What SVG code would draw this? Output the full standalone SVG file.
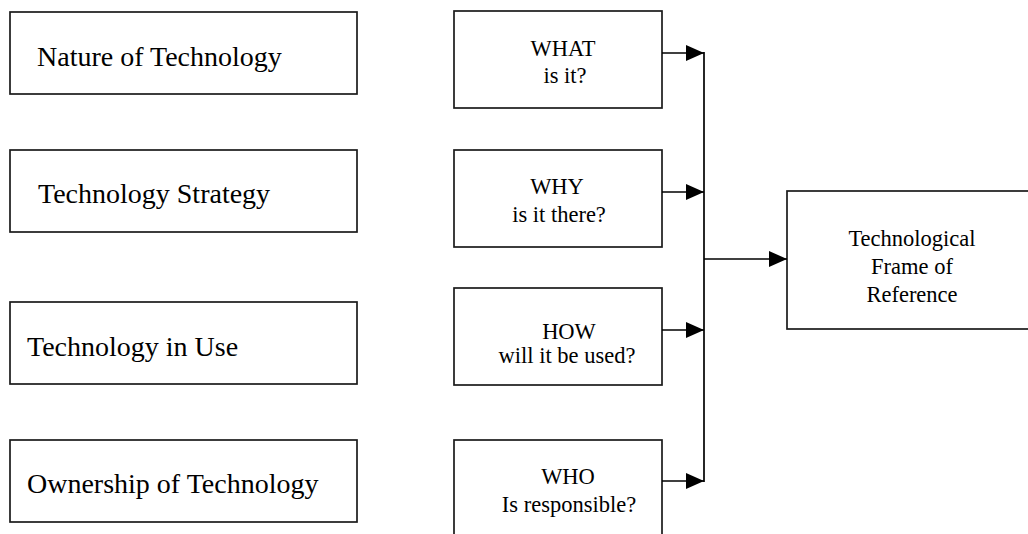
<svg xmlns="http://www.w3.org/2000/svg" width="1028" height="534" viewBox="0 0 1028 534">
<style>
.box{fill:#fff;stroke:#1a1a1a;stroke-width:1.7}
.lbl{font-family:"Liberation Serif","Times New Roman",serif;fill:#000}
.big{font-size:28px}
.mid{font-size:22.5px;text-anchor:middle}
.ln{stroke:#000;stroke-width:1.7;fill:none}
</style>
<defs>
<marker id="ah" viewBox="0 0 18 16" refX="18" refY="8" markerWidth="18" markerHeight="16" markerUnits="userSpaceOnUse" orient="auto">
<path d="M0,0 L18,8 L0,16 Z" fill="#000"/>
</marker>
</defs>
<rect width="1028" height="534" fill="#fff"/>
<g id="n-nature"><rect class="box" x="10" y="12" width="347" height="82"/><text class="lbl big" x="37" y="66">Nature of Technology</text></g>
<g id="n-strategy"><rect class="box" x="10" y="150" width="347" height="82"/><text class="lbl big" x="38" y="203">Technology Strategy</text></g>
<g id="n-use"><rect class="box" x="10" y="302" width="347" height="82"/><text class="lbl big" x="27" y="356">Technology in Use</text></g>
<g id="n-ownership"><rect class="box" x="10" y="440" width="347" height="82"/><text class="lbl big" x="27" y="493">Ownership of Technology</text></g>
<g id="n-what"><rect class="box" x="454" y="11" width="208" height="97"/><text class="lbl mid" x="563" y="56">WHAT</text><text class="lbl mid" x="565" y="83">is it?</text></g>
<g id="n-why"><rect class="box" x="454" y="150" width="208" height="97"/><text class="lbl mid" x="557" y="194">WHY</text><text class="lbl mid" x="559" y="222">is it there?</text></g>
<g id="n-how"><rect class="box" x="454" y="288" width="208" height="97"/><text class="lbl mid" x="569" y="339">HOW</text><text class="lbl mid" x="567" y="363">will it be used?</text></g>
<g id="n-who"><rect class="box" x="454" y="440" width="208" height="110"/><text class="lbl mid" x="568" y="484">WHO</text><text class="lbl mid" x="569" y="512">Is responsible?</text></g>
<g id="n-frame"><rect class="box" x="787" y="191" width="260" height="138"/><text class="lbl mid" x="912" y="246">Technological</text><text class="lbl mid" x="912" y="274">Frame of</text><text class="lbl mid" x="912" y="302">Reference</text></g>
<g id="connectors">
<line class="ln" x1="704" y1="52" x2="704" y2="482"/>
<line class="ln" x1="662" y1="53" x2="704" y2="53" marker-end="url(#ah)"/>
<line class="ln" x1="662" y1="192" x2="704" y2="192" marker-end="url(#ah)"/>
<line class="ln" x1="662" y1="330" x2="704" y2="330" marker-end="url(#ah)"/>
<line class="ln" x1="662" y1="481" x2="704" y2="481" marker-end="url(#ah)"/>
<line class="ln" x1="704" y1="259" x2="787" y2="259" marker-end="url(#ah)"/>
</g>
</svg>
